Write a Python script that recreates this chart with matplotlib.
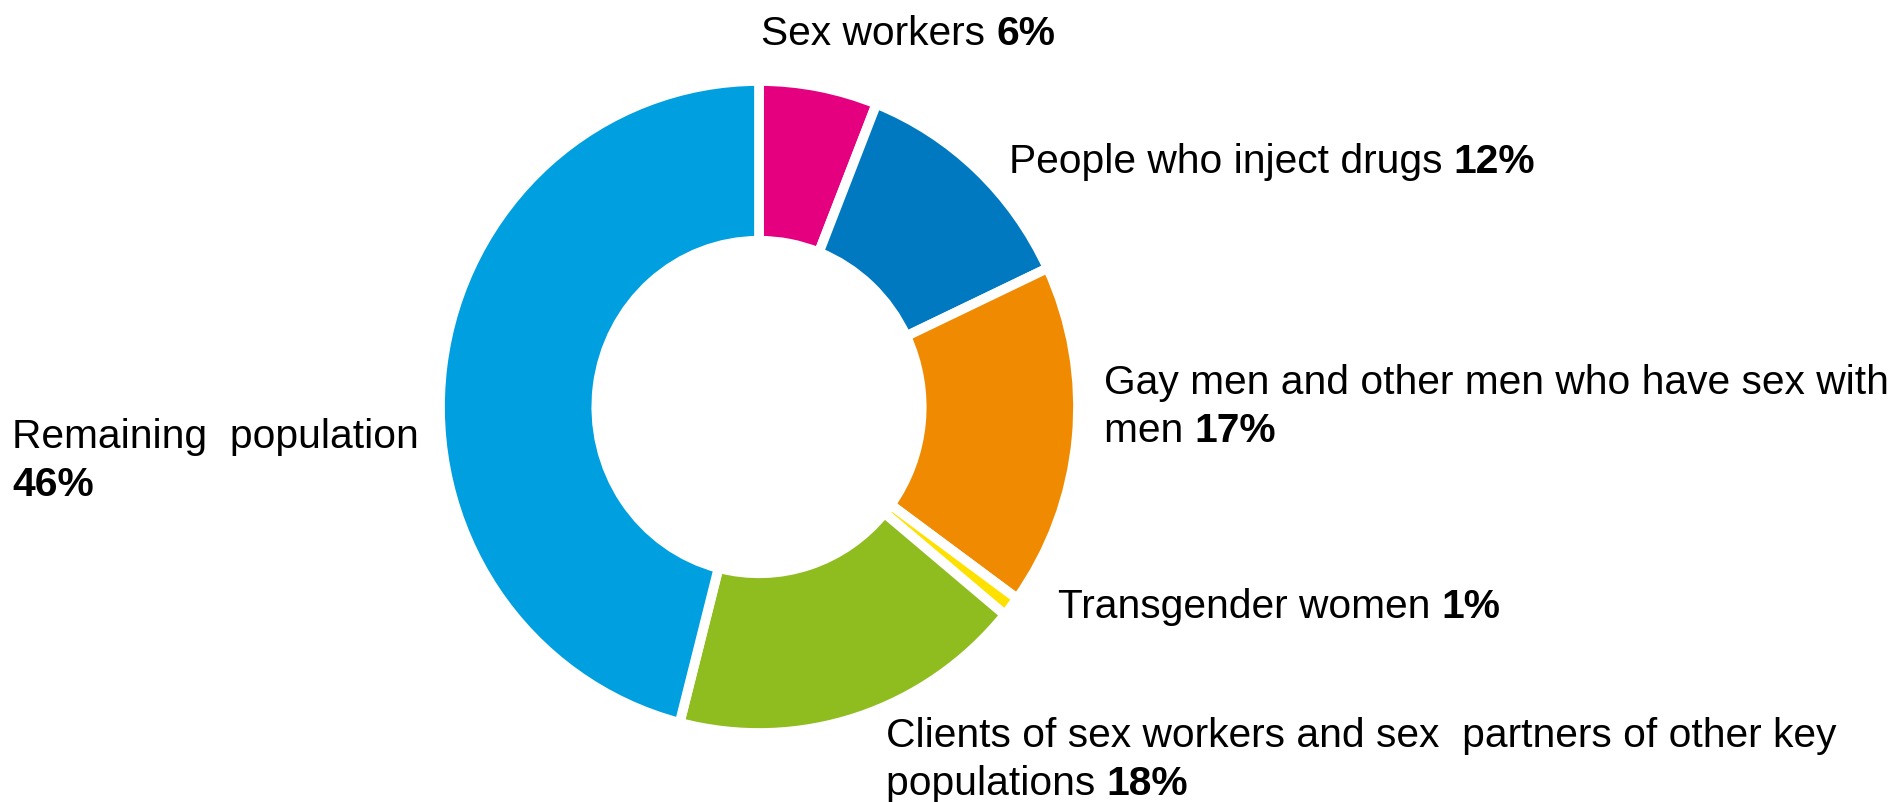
import matplotlib.pyplot as plt

# HIV infections by population group
groups = ["Sex workers", "People who inject drugs",
          "Gay men and other men who have sex with men", "Transgender women",
          "Clients of sex workers and sex partners of other key populations",
          "Remaining population"]
shares = [6, 12, 17, 1, 18, 46]
colors = ["#E4007F", "#0079C1", "#F08A00", "#FFE100", "#8FBC1F", "#009FDF"]

# label text: regular lines, and the last line which ends with the bold share
label_lines = [
    [],
    [],
    ["Gay men and other men who have sex with"],
    [],
    ["Clients of sex workers and sex  partners of other key"],
    ["Remaining  population"],
]
label_last = ["Sex workers ", "People who inject drugs ", "men ",
              "Transgender women ", "populations ", ""]
# left edge and first line centre of each label, in pixels from the top left
label_pos = [(761, 30), (1009, 158), (1104, 379), (1058, 603), (886, 732), (12, 433)]

W, H = 1900, 802
fig = plt.figure(figsize=(W / 100, H / 100), dpi=100)
plt.rcParams['font.family'] = ['Liberation Sans', 'DejaVu Sans']

# ring is a touch taller than wide
cx, cy, rx, ry = 759, 407, 319, 326
ax = fig.add_axes([(cx - rx) / W, (H - cy - ry) / H, 2 * rx / W, 2 * ry / H])
ax.pie(shares, colors=colors, startangle=90, counterclock=False, radius=1,
       wedgeprops=dict(width=0.49, edgecolor="white", linewidth=7))
ax.set_aspect("auto")
ax.set_xlim(-1, 1)
ax.set_ylim(-1, 1)
ax.axis("off")

fs = 29.3
line_gap = 48
fig.canvas.draw()
renderer = fig.canvas.get_renderer()
for lines, last, share, (x, y) in zip(label_lines, label_last, shares, label_pos):
    for i, line in enumerate(lines):
        fig.text(x / W, 1 - (y + i * line_gap) / H, line, fontsize=fs,
                 va="center_baseline", ha="left")
    yl = 1 - (y + len(lines) * line_gap) / H
    xb = x / W
    if last:
        t = fig.text(xb, yl, last, fontsize=fs, va="center_baseline", ha="left")
        ext = t.get_window_extent(renderer)
        xb = ext.x1 / W
    fig.text(xb, yl, f"{share}%", fontsize=fs, fontweight="bold",
             va="center_baseline", ha="left")

fig.savefig("out.png", dpi=100, facecolor="white")
